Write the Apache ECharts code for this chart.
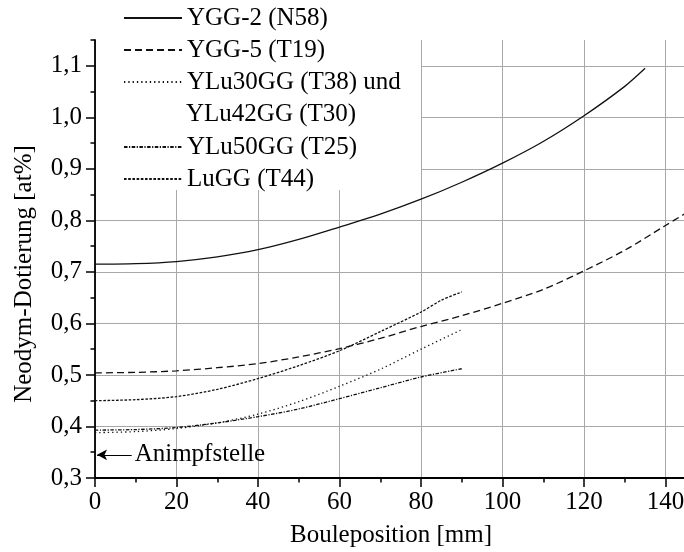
<!DOCTYPE html>
<html>
<head>
<meta charset="utf-8">
<script src="https://cdn.jsdelivr.net/npm/echarts@6/dist/echarts.min.js"></script>
<style>
  html, body { margin: 0; padding: 0; background: #fff; }
  #chart { width: 684px; height: 552px; }
</style>
</head>
<body>
<div id="chart"></div>
<script>
// Bouleposition [mm] / Nd-Dotierung [at%]
var xLong = [0, 10, 20, 30, 40, 50, 60, 70, 80, 90, 100, 110, 120, 130, 135];
var ygg2 = [0.715, 0.716, 0.720, 0.729, 0.743, 0.763, 0.787, 0.812, 0.841, 0.874, 0.911, 0.953, 1.003, 1.060, 1.095];

var xYgg5 = [0, 10, 20, 30, 40, 50, 60, 70, 80, 90, 100, 110, 120, 130, 140, 145];
var ygg5 = [0.504, 0.505, 0.508, 0.514, 0.522, 0.535, 0.551, 0.571, 0.594, 0.615, 0.639, 0.666, 0.702, 0.742, 0.790, 0.814];

var xShort = [0, 10, 20, 30, 40, 50, 60, 70, 80, 90];
var ylu30 = [0.388, 0.390, 0.396, 0.407, 0.424, 0.448, 0.478, 0.511, 0.550, 0.588];
var ylu50 = [0.393, 0.394, 0.398, 0.407, 0.419, 0.434, 0.454, 0.475, 0.496, 0.512];

var xLugg = [0, 10, 20, 30, 40, 50, 60, 70, 80, 85, 90];
var lugg = [0.450, 0.452, 0.458, 0.472, 0.493, 0.518, 0.547, 0.584, 0.622, 0.645, 0.661];

var yMajor = [0.3, 0.4, 0.5, 0.6, 0.7, 0.8, 0.9, 1.0, 1.1];
var seedPos = 0.345; // Animpfstelle

var names = ['YGG-2 (N58)', 'YGG-5 (T19)', 'YLu30GG (T38) und', 'YLu50GG (T25)', 'LuGG (T44)'];
var secondLine = 'YLu42GG (T30)';

var font = "'Liberation Serif', 'Times New Roman', serif";
var fs = 25;

function zip(xs, ys) {
    return xs.map(function (x, i) { return [x, ys[i]]; });
}

function lineSeries(name, xs, ys, dash) {
    return {
        type: 'line',
        name: name,
        data: zip(xs, ys),
        smooth: 0.3,
        symbol: 'none',
        showSymbol: false,
        color: '#111',
        itemStyle: { color: '#111' },
        lineStyle: { color: '#111', width: 1.3, type: dash },
        z: 3
    };
}

var chart = echarts.init(document.getElementById('chart'), null, { renderer: 'canvas' });

var series = [
    lineSeries(names[0], xLong, ygg2, 'solid'),
    lineSeries(names[1], xYgg5, ygg5, [7, 4]),
    lineSeries(names[2], xShort, ylu30, [1.3, 3]),
    lineSeries(names[3], xShort, ylu50, [3.5, 1.5, 1.2, 1.5]),
    lineSeries(names[4], xLugg, lugg, [2.6, 1.6])
];

series[0].markLine = {
    silent: true,
    symbol: ['none', 'arrow'],
    symbolSize: [8, 10],
    lineStyle: { color: '#000', type: 'solid', width: 1.2 },
    label: {
        show: true,
        position: 'start',
        formatter: 'Animpfstelle',
        color: '#000',
        fontFamily: font,
        fontSize: fs,
        distance: 3
    },
    data: [[{ coord: [9, seedPos] }, { coord: [0.5, seedPos] }]]
};

var legendText = { color: '#000', fontFamily: font, fontSize: fs, lineHeight: 32 };

var option = {
    animation: false,
    backgroundColor: '#fff',
    grid: { left: 95, top: 40, width: 652, height: 438, containLabel: false, outerBoundsMode: 'none' },
    xAxis: {
        type: 'value',
        min: 0,
        max: 160,
        interval: 20,
        axisLine: { show: true, lineStyle: { color: '#000', width: 1.8 } },
        axisTick: { show: true, length: 9, lineStyle: { color: '#000', width: 1.5 } },
        minorTick: { show: true, splitNumber: 2, length: 4.5, lineStyle: { color: '#000', width: 1.5 } },
        axisLabel: { color: '#000', fontFamily: font, fontSize: fs, margin: 12 },
        splitLine: { show: true, lineStyle: { color: '#a8a8a8', width: 1 } },
        name: 'Bouleposition [mm]',
        nameLocation: 'middle',
        nameGap: 45,
        nameTextStyle: { color: '#000', fontFamily: font, fontSize: fs, padding: [0, 60, 0, 0] }
    },
    yAxis: [{
        type: 'value',
        position: 'left',
        min: 0.3,
        max: 1.15,
        interval: 0.1,
        axisLine: { show: true, lineStyle: { color: '#000', width: 1.8 } },
        axisTick: { show: true, length: 9, customValues: yMajor, lineStyle: { color: '#000', width: 1.5 } },
        axisLabel: {
            color: '#000', fontFamily: font, fontSize: fs, margin: 13,
            customValues: yMajor,
            formatter: function (v) { return v.toFixed(1).replace('.', ','); }
        },
        splitLine: { show: true, lineStyle: { color: '#a8a8a8', width: 1 } },
        name: 'Neodym-Dotierung [at%]',
        nameLocation: 'middle',
        nameGap: 58,
        nameTextStyle: { color: '#000', fontFamily: font, fontSize: fs, padding: [0, 30, 0, 0] }
    }, {
        // minor ticks every 0.05 up to the axis end
        type: 'value',
        position: 'left',
        min: 0.3,
        max: 1.15,
        interval: 0.05,
        axisLine: { show: false },
        axisTick: { show: true, length: 4.5, lineStyle: { color: '#000', width: 1.5 } },
        axisLabel: { show: false },
        splitLine: { show: false }
    }],
    legend: [{
        data: names.slice(0, 3),
        orient: 'vertical',
        left: 123,
        top: 2,
        padding: 0,
        itemGap: 0,
        itemWidth: 58,
        itemHeight: 14,
        itemStyle: { opacity: 0 },
        textStyle: legendText,
        selectedMode: false
    }, {
        data: names.slice(3),
        orient: 'vertical',
        left: 123,
        top: 131,
        padding: 0,
        itemGap: 0,
        itemWidth: 58,
        itemHeight: 14,
        itemStyle: { opacity: 0 },
        textStyle: legendText,
        selectedMode: false
    }],
    graphic: [{
        type: 'rect',
        shape: { x: 96, y: 0, width: 325, height: 190 },
        style: { fill: '#fff' },
        z: 1,
        silent: true
    }, {
        type: 'text',
        x: 186,
        y: 114,
        style: {
            text: secondLine,
            fill: '#000',
            font: fs + "px " + font,
            verticalAlign: 'middle'
        },
        z: 5
    }],
    series: series
};

chart.setOption(option);
</script>
</body>
</html>
